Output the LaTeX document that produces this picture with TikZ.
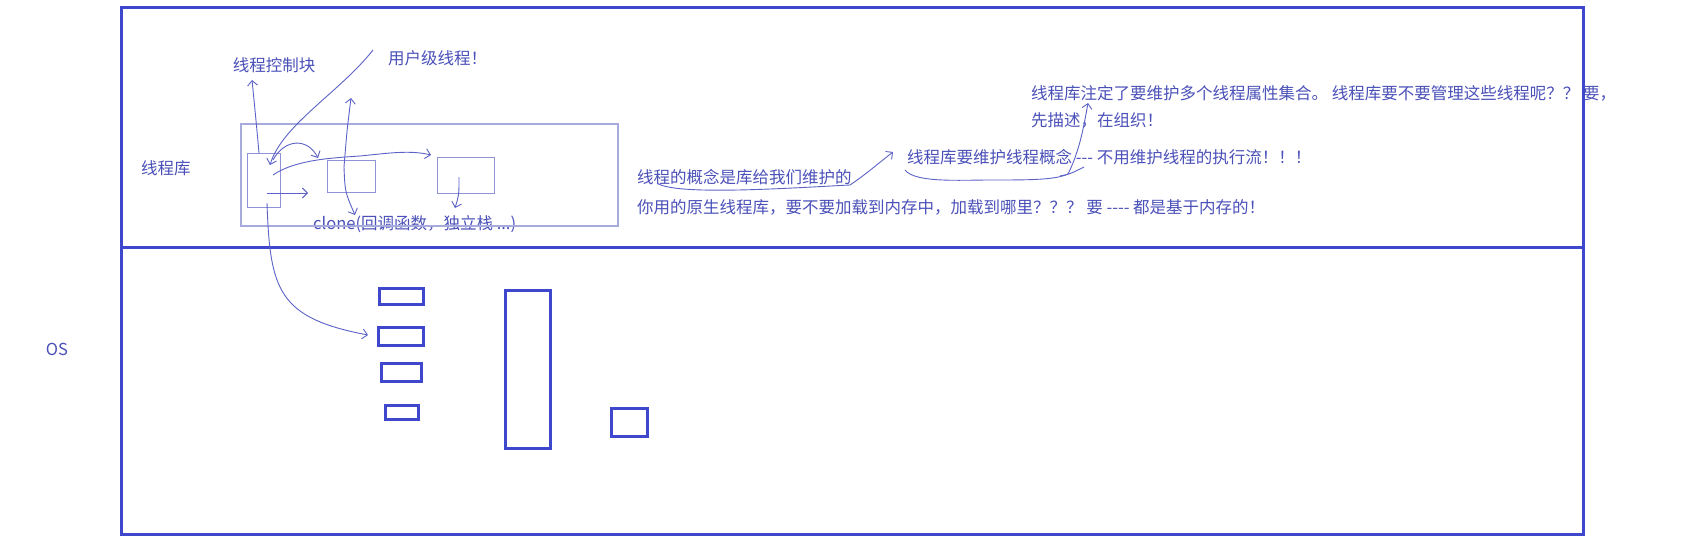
\documentclass[tikz,border=0pt]{standalone}
\usepackage{fontspec}
\setmainfont{Noto Sans CJK SC}[Ligatures=TeXOff]
\usetikzlibrary{arrows.meta}
\definecolor{bordercol}{HTML}{3F48CC}
\definecolor{txtcol}{HTML}{4A50B8}
\definecolor{pencol}{HTML}{5C62C6}
\definecolor{libcol}{HTML}{A6AADD}
\definecolor{sboxcol}{HTML}{8F93D6}
\begin{document}
\begin{tikzpicture}[x=1pt,y=-1pt,
  lbl/.style={text=txtcol,font=\fontsize{16.5}{18}\selectfont,inner sep=0pt,anchor=west},
  osbox/.style={draw=bordercol,line width=3pt,inner sep=0pt},
  libbox/.style={draw=libcol,line width=1.2pt,inner sep=0pt},
  thbox/.style={draw=sboxcol,line width=1pt,inner sep=0pt},
  pen/.style={draw=pencol,line width=0.9pt},
  arr/.style={pen,-{Straight Barb[length=5pt,width=10pt]}}]
\useasboundingbox (0,0) rectangle (1696,541);

% outer frame and divider
\node[osbox,minimum width=1462pt,minimum height=527pt] (outer) at (852,270.5) {};
\coordinate (dl) at (121,247);
\coordinate (dr) at (1583,247);
\draw[draw=bordercol,line width=3pt] (dl) -- (dr);

% labels
\node[lbl,anchor=center] (os) at (57,349) {OS};
\node[lbl] (libname) at (141,168) {线程库};
\node[lbl,anchor=center] (tcbtxt) at (274,65) {线程控制块};
\node[lbl] (ulvl) at (388,58) {用户级线程！};
\node[lbl] (clonetxt) at (313,224) {clone(回调函数，独立栈 ...)};

% library boxes
\node[libbox,minimum width=377pt,minimum height=102pt] (lib) at (429.5,175) {};
\node[thbox,minimum width=33pt,minimum height=54pt] (tcb) at (263.5,180) {};
\node[thbox,minimum width=48pt,minimum height=32pt] (t2) at (351,176) {};
\node[thbox,minimum width=57pt,minimum height=36pt] (t3) at (465.5,175) {};

% right side texts
\node[lbl] (r1) at (1031,93) {线程库注定了要维护多个线程属性集合。 线程库要不要管理这些线程呢？？ 要，};
\node[lbl] (r2) at (1031,120) {先描述，在组织！};
\node[lbl] (r3) at (907,157) {线程库要维护线程概念 --- 不用维护线程的执行流！！！};
\node[lbl] (r4) at (637,177) {线程的概念是库给我们维护的};
\node[lbl] (r5) at (637,207) {你用的原生线程库，要不要加载到内存中，加载到哪里？？？ 要 ---- 都是基于内存的！};

% OS boxes
\node[osbox,minimum width=44pt,minimum height=16pt] (b1) at (401,296) {};
\node[osbox,minimum width=45pt,minimum height=18pt] (b2) at (400.5,336) {};
\node[osbox,minimum width=40pt,minimum height=18pt] (b3) at (401,372) {};
\node[osbox,minimum width=33pt,minimum height=14pt] (b4) at (401.5,412) {};
\node[osbox,minimum width=45pt,minimum height=158pt] (big) at (527.5,369) {};
\node[osbox,minimum width=36pt,minimum height=28pt] (small) at (629,422) {};

% hand-drawn arrows in library
\coordinate (a1s) at (259,153);
\coordinate (a1e) at (252,80);
\draw[arr] (a1s) .. controls (256,120) .. (a1e);
\coordinate (a2s) at (373,50);
\coordinate (a2e) at (270,165);
\draw[arr] (a2s) .. controls (340,92) and (282,125) .. (a2e);
\coordinate (a3s) at (273,160);
\coordinate (a3e) at (318,158);
\draw[arr] (a3s) .. controls (285,138) and (308,138) .. (a3e);
\coordinate (a4s) at (273,175);
\coordinate (a4m) at (360,156);
\coordinate (a4e) at (431,155);
\draw[arr] (a4s) .. controls (295,160) and (330,158) .. (a4m) .. controls (390,153) and (410,150) .. (a4e);
\coordinate (a5s) at (267,193);
\coordinate (a5e) at (308,193);
\draw[arr] (a5s) -- (a5e);
\coordinate (a6m) at (344,167);
\coordinate (a6u) at (351,98);
\coordinate (a6d) at (355,215);
\draw[arr] (a6m) .. controls (347,130) .. (a6u);
\draw[arr] (a6m) .. controls (345,192) .. (a6d);
\coordinate (a7s) at (459,177);
\coordinate (a7e) at (455,208);
\draw[arr] (a7s) .. controls (459,195) .. (a7e);
\coordinate (a8s) at (267,203);
\coordinate (a8e) at (368,335);
\draw[arr] (a8s) .. controls (270,290) and (278,318) .. (a8e);

% right side scribbles
\coordinate (w1s) at (657,183);
\coordinate (w1m) at (850,185);
\coordinate (w1e) at (893,152);
\draw[arr] (w1s) .. controls (675,196) and (790,188) .. (w1m) .. controls (865,175) and (880,162) .. (w1e);
\coordinate (w2s) at (905,170);
\coordinate (w2m) at (1068,174);
\coordinate (w2e) at (1088,103);
\draw[arr] (w2s) .. controls (915,183) and (960,180) .. (990,180) .. controls (1030,180) and (1055,180) .. (w2m) .. controls (1080,150) and (1084,125) .. (w2e);
\coordinate (w3s) at (1060,176);
\coordinate (w3e) at (1084,167);
\draw[pen] (w3s) .. controls (1070,174) .. (w3e);
\end{tikzpicture}
\end{document}
